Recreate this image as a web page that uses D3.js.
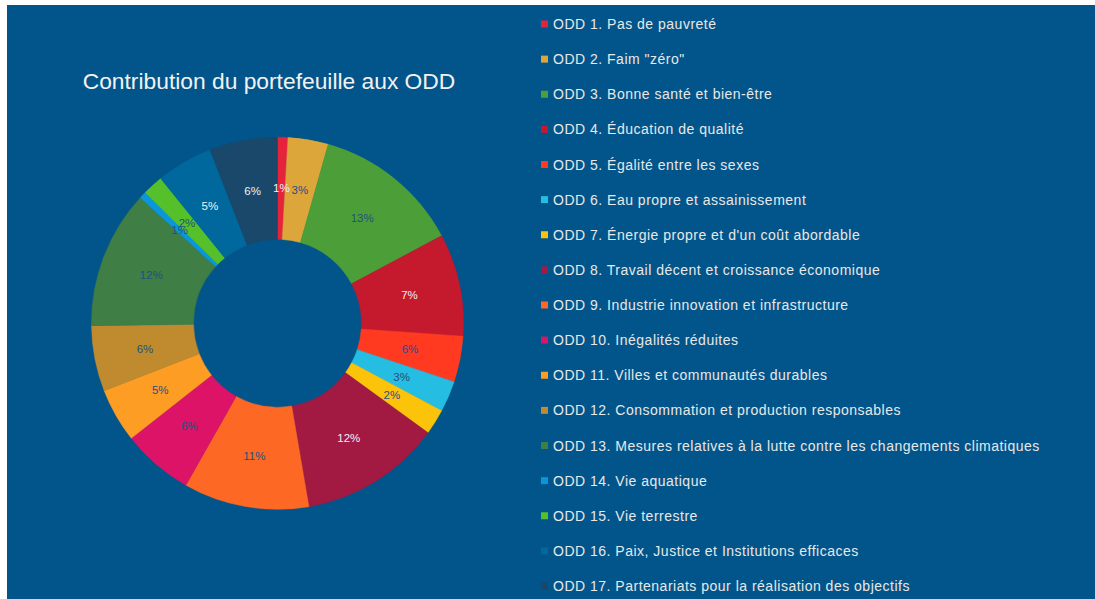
<!DOCTYPE html>
<html>
<head>
<meta charset="utf-8">
<script src="https://cdn.jsdelivr.net/npm/d3@7"></script>
<style>
    body { margin: 0; background: #ffffff; }
    svg { display: block; }
</style>
</head>
<body>
<script>
// SDG labels, in legend / slice order
const goals = [
    "ODD 1. Pas de pauvreté",
    "ODD 2. Faim \"zéro\"",
    "ODD 3. Bonne santé et bien-être",
    "ODD 4. Éducation de qualité",
    "ODD 5. Égalité entre les sexes",
    "ODD 6. Eau propre et assainissement",
    "ODD 7. Énergie propre et d'un coût abordable",
    "ODD 8. Travail décent et croissance économique",
    "ODD 9. Industrie innovation et infrastructure",
    "ODD 10. Inégalités réduites",
    "ODD 11. Villes et communautés durables",
    "ODD 12. Consommation et production responsables",
    "ODD 13. Mesures relatives à la lutte contre les changements climatiques",
    "ODD 14. Vie aquatique",
    "ODD 15. Vie terrestre",
    "ODD 16. Paix, Justice et Institutions efficaces",
    "ODD 17. Partenariats pour la réalisation des objectifs"
];

// share of each slice (as drawn)
const shares = [0.9, 3.5, 12.8, 8.9, 4.0, 2.7, 2.2, 12.3, 10.9, 6.2, 4.7, 5.7, 12.0, 0.6, 1.8, 4.9, 5.9];

// percentages printed on the slices
const shareLabels = ["1%", "3%", "13%", "7%", "6%", "3%", "2%", "12%", "11%", "6%", "5%", "6%", "12%", "1%", "2%", "5%", "6%"];

const goalColors = ["#E5243B", "#DDA63A", "#4C9F38", "#C5192D", "#FF3A21", "#26BDE2", "#FCC30B", "#A21942",
    "#FD6925", "#DD1367", "#FD9D24", "#BF8B2E", "#3F7E44", "#0A97D9", "#56C02B", "#00689D", "#19486A"];

const title = "Contribution du portefeuille aux ODD";

const width = 1095, height = 599;
const bg = "#02558A";
const center = {x: 277.5, y: 323.3};
const innerR = 84, outerR = 186;
// slices whose percentage is written in white
const whiteLabels = new Set([0, 3, 7, 15, 16]);

const svg = d3.select("body").append("svg")
    .attr("width", width)
    .attr("height", height);

// panel background (white margin on the top and left)
svg.append("rect")
    .attr("x", 7)
    .attr("y", 5)
    .attr("width", width - 7)
    .attr("height", height - 5)
    .attr("fill", bg);

svg.append("text")
    .attr("x", 269)
    .attr("y", 89)
    .attr("text-anchor", "middle")
    .attr("fill", "#f2f2f2")
    .style("font-family", "'Liberation Sans', Arial, sans-serif")
    .style("font-size", "22.8px")
    .text(title);

const color = d3.scaleOrdinal(goals, goalColors);

const pie = d3.pie()
    .sort(null)
    .value(d => d.value);

const arc = d3.arc()
    .innerRadius(innerR)
    .outerRadius(outerR);

const data = goals.map((g, i) => ({name: g, value: shares[i], label: shareLabels[i], i: i}));
const arcs = pie(data);

const g = svg.append("g")
    .attr("transform", "translate(" + center.x + "," + center.y + ")");

g.selectAll("path.slice")
    .data(arcs)
    .enter().append("path")
    .attr("class", "slice")
    .attr("d", arc)
    .attr("fill", d => color(d.data.name))
    .attr("stroke", d => color(d.data.name))
    .attr("stroke-width", 0.5);

g.selectAll("text.pct")
    .data(arcs)
    .enter().append("text")
    .attr("class", "pct")
    .attr("transform", d => "translate(" + arc.centroid(d) + ")")
    .attr("dy", "0.35em")
    .attr("text-anchor", "middle")
    .attr("fill", d => whiteLabels.has(d.data.i) ? "#f0f0f0" : "#1f5080")
    .style("font-family", "'Liberation Sans', Arial, sans-serif")
    .style("font-size", "11.5px")
    .text(d => d.data.label);

// legend
const legendY = d3.scalePoint()
    .domain(goals)
    .range([24, 586]);

const legend = svg.append("g")
    .selectAll("g")
    .data(goals)
    .enter().append("g")
    .attr("transform", d => "translate(541," + legendY(d) + ")");

legend.append("rect")
    .attr("x", 0)
    .attr("y", -3.5)
    .attr("width", 7)
    .attr("height", 7)
    .attr("fill", d => color(d));

legend.append("text")
    .attr("x", 12)
    .attr("dy", "0.36em")
    .attr("fill", "#e8e8e8")
    .style("font-family", "'Liberation Sans', Arial, sans-serif")
    .style("font-size", "14px")
    .style("letter-spacing", "0.5px")
    .text(d => d);
</script>
</body>
</html>
